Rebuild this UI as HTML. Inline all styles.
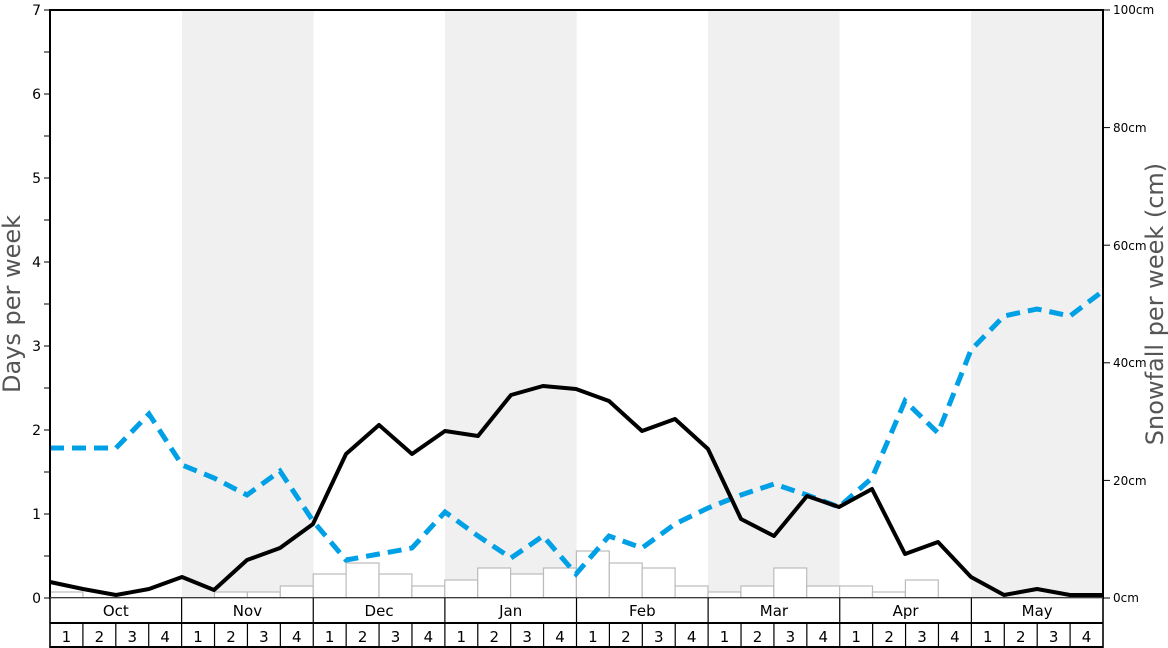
<!DOCTYPE html>
<html><head><meta charset="utf-8"><style>body{margin:0;background:#fff}svg{display:block}text{font-family:"DejaVu Sans","Liberation Sans",sans-serif}</style></head><body>
<svg width="1168" height="648" viewBox="0 0 1168 648" xmlns="http://www.w3.org/2000/svg">
<g fill="#f0f0f0">
<rect x="182" y="10" width="131.6" height="588"/>
<rect x="445" y="10" width="131.6" height="588"/>
<rect x="708" y="10" width="131.6" height="588"/>
<rect x="971" y="10" width="132" height="588"/>
</g>
<g fill="#fff" stroke="#bbb" stroke-width="1.2">
<rect x="50" y="592" width="32.9" height="6"/>
<rect x="214.5" y="592" width="32.9" height="6"/>
<rect x="247.4" y="592" width="32.9" height="6"/>
<rect x="280.3" y="586" width="32.9" height="12"/>
<rect x="313.2" y="574" width="32.9" height="24"/>
<rect x="346.1" y="563" width="32.9" height="35"/>
<rect x="379" y="574" width="32.9" height="24"/>
<rect x="411.9" y="586" width="32.9" height="12"/>
<rect x="444.8" y="580" width="32.9" height="18"/>
<rect x="477.7" y="568" width="32.9" height="30"/>
<rect x="510.6" y="574" width="32.9" height="24"/>
<rect x="543.5" y="568" width="32.9" height="30"/>
<rect x="576.4" y="551" width="32.9" height="47"/>
<rect x="609.3" y="563" width="32.9" height="35"/>
<rect x="642.2" y="568" width="32.9" height="30"/>
<rect x="675.1" y="586" width="32.9" height="12"/>
<rect x="708" y="592" width="32.9" height="6"/>
<rect x="740.9" y="586" width="32.9" height="12"/>
<rect x="773.8" y="568" width="32.9" height="30"/>
<rect x="806.7" y="586" width="32.9" height="12"/>
<rect x="839.6" y="586" width="32.9" height="12"/>
<rect x="872.5" y="592" width="32.9" height="6"/>
<rect x="905.4" y="580" width="32.9" height="18"/>
</g>
<polyline fill="none" stroke="#00a0e6" stroke-width="5" stroke-dasharray="14,8" points="50,448 83,448 116,448 149,414 182,465 214,478 247,495 280,471 313,521 346,560 379,554 412,548 445,512 478,536 511,558 543,536 576,574 609,536 642,548 675,524 708,508 741,495 774,484 807,495 839,507 872,478 905,401 938,433 971,350 1004,316 1037,309 1070,316 1103,291"/>
<polyline fill="none" stroke="#000" stroke-width="4" stroke-linejoin="round" points="50,582 83,589 116,595 149,589 182,577 214,590 247,560 280,548 313,524 346,454 379,425 412,454 445,431 478,436 511,395 543,386 576,389 609,401 642,431 675,419 708,449 741,519 774,536 807,496 839,507 872,489 905,554 938,542 971,577 1004,595 1037,589 1070,595 1103,595"/>
<rect x="50" y="10" width="1053" height="588" fill="none" stroke="#000" stroke-width="2"/>
<g stroke="#000" stroke-width="1">
<line x1="44" y1="598" x2="50" y2="598"/><line x1="44" y1="514" x2="50" y2="514"/><line x1="44" y1="430" x2="50" y2="430"/><line x1="44" y1="346" x2="50" y2="346"/><line x1="44" y1="262" x2="50" y2="262"/><line x1="44" y1="178" x2="50" y2="178"/><line x1="44" y1="94" x2="50" y2="94"/><line x1="44" y1="10" x2="50" y2="10"/>
<line x1="44" y1="556" x2="50" y2="556"/><line x1="44" y1="472" x2="50" y2="472"/><line x1="44" y1="388" x2="50" y2="388"/><line x1="44" y1="304" x2="50" y2="304"/><line x1="44" y1="220" x2="50" y2="220"/><line x1="44" y1="136" x2="50" y2="136"/><line x1="44" y1="52" x2="50" y2="52"/>
<line x1="1103" y1="598" x2="1110" y2="598"/><line x1="1103" y1="480.4" x2="1110" y2="480.4"/><line x1="1103" y1="362.8" x2="1110" y2="362.8"/><line x1="1103" y1="245.2" x2="1110" y2="245.2"/><line x1="1103" y1="127.6" x2="1110" y2="127.6"/><line x1="1103" y1="10" x2="1110" y2="10"/>
</g>
<g font-size="14" text-anchor="end" fill="#000">
<text x="41" y="603">0</text><text x="41" y="519">1</text><text x="41" y="435">2</text><text x="41" y="351">3</text><text x="41" y="267">4</text><text x="41" y="183">5</text><text x="41" y="99">6</text><text x="41" y="15">7</text>
</g>
<g font-size="12" fill="#000">
<text x="1113" y="602">0cm</text><text x="1113" y="485">20cm</text><text x="1113" y="367">40cm</text><text x="1113" y="250">60cm</text><text x="1113" y="132">80cm</text><text x="1113" y="14">100cm</text>
</g>
<text transform="translate(20,304) rotate(-90)" font-size="24" fill="#555" text-anchor="middle">Days per week</text>
<text transform="translate(1163,304) rotate(-90)" font-size="24" fill="#555" text-anchor="middle">Snowfall per week (cm)</text>
<rect x="50" y="598" width="1053" height="50" fill="#fff"/>
<g stroke="#000" stroke-width="1.5">
<line x1="50" y1="598" x2="50" y2="648"/><line x1="1103" y1="598" x2="1103" y2="648"/>
<line x1="50" y1="623" x2="1103" y2="623" stroke-width="2"/>
<line x1="50" y1="647" x2="1103" y2="647" stroke-width="2"/>
<line x1="50" y1="598" x2="1103" y2="598" stroke="#777" stroke-width="1"/>
</g>
<g id="lines" stroke="#000" stroke-width="1.2"></g>
<g font-size="15" text-anchor="middle" fill="#000" id="lbl"></g>
<script>
var L=document.getElementById('lines'),T=document.getElementById('lbl'),ns='http://www.w3.org/2000/svg';
var m=['Oct','Nov','Dec','Jan','Feb','Mar','Apr','May'],w=1053/32;
for(var i=0;i<=32;i++){var x=50+w*i;var l=document.createElementNS(ns,'line');l.setAttribute('x1',x);l.setAttribute('x2',x);l.setAttribute('y1',i%4==0?598:623);l.setAttribute('y2',648);L.appendChild(l);
if(i<32){var t=document.createElementNS(ns,'text');t.setAttribute('x',x+w/2);t.setAttribute('y',642);t.textContent=(i%4)+1;T.appendChild(t);}}
for(var j=0;j<8;j++){var t=document.createElementNS(ns,'text');t.setAttribute('x',50+w*4*j+w*2);t.setAttribute('y',616);t.textContent=m[j];T.appendChild(t);}
</script>
</svg>
</body></html>
